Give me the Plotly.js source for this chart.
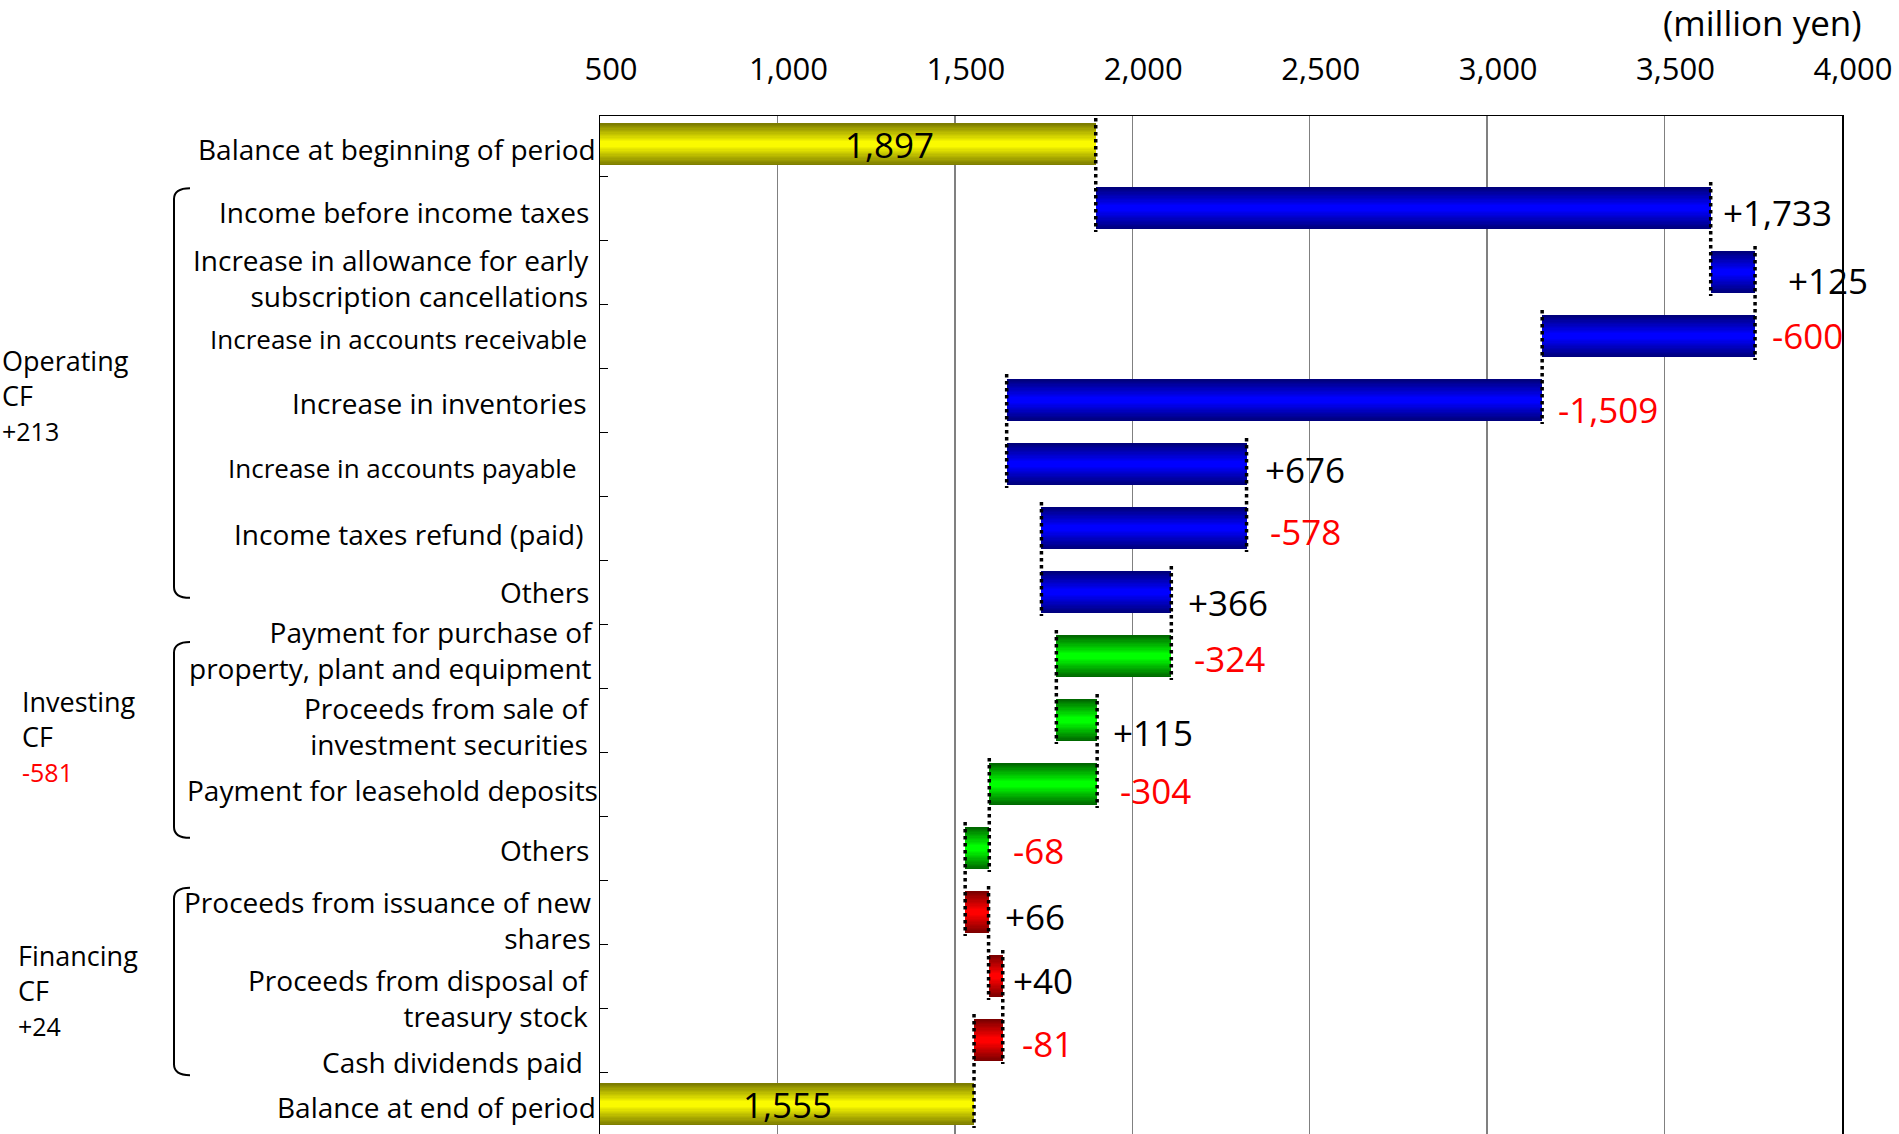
<!DOCTYPE html>
<html>
<head>
<meta charset="utf-8">
<script src="https://cdn.plot.ly/plotly-3.0.1.min.js"></script>
<style>html,body{margin:0;padding:0;background:#fff;}#chart{width:1899px;height:1134px;}</style>
</head>
<body>
<div id="chart"></div>
<script>
// ---------------- DATA ----------------
const categories = [
  "Balance at beginning of period",
  "Income before income taxes",
  "Increase in allowance for early<br>subscription cancellations",
  "Increase in accounts receivable",
  "Increase in inventories",
  "Increase in accounts payable",
  "Income taxes refund (paid)",
  "Others",
  "Payment for purchase of<br>property, plant and equipment",
  "Proceeds from sale of<br>investment securities",
  "Payment for leasehold deposits",
  "Others",
  "Proceeds from issuance of new<br>shares",
  "Proceeds from disposal of<br>treasury stock",
  "Cash dividends paid",
  "Balance at end of period"
];
const beginBalance = 1897;
const endBalance = 1555;
const changes = [1733, 125, -600, -1509, 676, -578, 366, -324, 115, -304, -68, 66, 40, -81];
const groupNames = ["Operating", "Investing", "Financing"];
const groupTotals = [213, -581, 24];
const groupFirstRow = [1, 8, 12];
const groupLastRow = [7, 11, 14];
const xTickValues = [500, 1000, 1500, 2000, 2500, 3000, 3500, 4000];
const unitLabel = "(million yen)";

// ---------------- STYLE ----------------
const FONT = "'Open Sans', Roboto, sans-serif";
const W = 1899, H = 1134;
const M = {l: 600, r: 57, t: 116, b: 0};
const PW = W - M.l - M.r, PH = H - M.t - M.b;
const ROW_PX = 64;
const BAR_H = 0.65;
const palette = {
  balance:   {dark: [122, 122, 0],  light: [250, 250, 0]},
  operating: {dark: [0, 0, 120],    light: [0, 0, 255]},
  investing: {dark: [0, 100, 0],    light: [0, 255, 0]},
  financing: {dark: [120, 0, 0],    light: [255, 0, 0]}
};
// category label nudges (px): gap to axis, downward shift, font size
const catStyle = [
  {gap: 4, dy: 5, size: 28}, {gap: 11, dy: 4, size: 28}, {gap: 11, dy: 6, size: 28},
  {gap: 13, dy: 3, size: 26}, {gap: 13, dy: 3, size: 28}, {gap: 23, dy: 4, size: 26},
  {gap: 17, dy: 6, size: 28}, {gap: 11, dy: 0, size: 28}, {gap: 7, dy: -6, size: 28},
  {gap: 11, dy: 6, size: 28}, {gap: 2, dy: 6, size: 28}, {gap: 11, dy: 2, size: 28},
  {gap: 9, dy: 8, size: 28}, {gap: 11, dy: 22, size: 28}, {gap: 17, dy: 22, size: 28},
  {gap: 4, dy: 3, size: 28}
];
// value label nudges (px): gap to bar end, downward shift
const valueStyle = [
  {gap: 12, dy: 4}, {gap: 33, dy: 8}, {gap: 17, dy: -1}, {gap: 16, dy: 9},
  {gap: 18, dy: 5}, {gap: 23, dy: 3}, {gap: 17, dy: 10}, {gap: 23, dy: 2},
  {gap: 16, dy: 12}, {gap: 23, dy: 6}, {gap: 24, dy: 2}, {gap: 16, dy: 4},
  {gap: 10, dy: 4}, {gap: 19, dy: 3}
];
const groupStyle = [
  {px: 2, dy: -5, span: [0.69, 7.09]},
  {px: 22, dy: -16, span: [7.78, 10.84]},
  {px: 18, dy: 14, span: [11.62, 14.55]}
];
const balanceLabelShift = [42, 0];

const px2paperX = px => (px - M.l) / PW;
const px2paperY = py => 1 - (py - M.t) / PH;
const fmt = v => v.toLocaleString("en-US");
const signed = v => (v > 0 ? "+" : "") + fmt(v);

// ---------------- BUILD ----------------
const n = categories.length;
const rowIdx = categories.map((_, i) => i);
const kindNames = ["operating", "investing", "financing"];
const kinds = rowIdx.map(i => {
  for (let g = 0; g < groupNames.length; g++) {
    if (i >= groupFirstRow[g] && i <= groupLastRow[g]) return kindNames[g];
  }
  return "balance";
});
const bases = [], lengths = [], ends = [];
let run = beginBalance;
bases.push(0); lengths.push(beginBalance); ends.push(beginBalance);
changes.forEach(c => { bases.push(run); lengths.push(c); run += c; ends.push(run); });
bases.push(0); lengths.push(endBalance); ends.push(endBalance);

const mix = (a, b, t) => {
  const c = a.map((v, i) => Math.round(v + (b[i] - v) * t));
  return `rgb(${c[0]},${c[1]},${c[2]})`;
};
const traces = [];
const NL = 16;
for (let k = 0; k < NL; k++) {
  const t = (k + 0.5) / NL;
  traces.push({
    type: "bar", orientation: "h",
    y: rowIdx, x: lengths, base: bases,
    width: BAR_H * (1 - k / NL),
    marker: {color: kinds.map(kd => mix(palette[kd].dark, palette[kd].light, Math.min(1, t * 1.1))), line: {width: 0}},
    hoverinfo: "skip", showlegend: false
  });
}
// connectors
const cx = [], cy = [];
for (let k = 0; k < n - 1; k++) {
  cx.push(ends[k], ends[k], null);
  cy.push(k - BAR_H / 2 - 0.08, k + 1 + BAR_H / 2 + 0.05, null);
}
traces.push({
  type: "scatter", mode: "lines", x: cx, y: cy,
  line: {color: "black", width: 3.5, dash: "dot"},
  hoverinfo: "skip", showlegend: false, cliponaxis: false
});

const annotations = [];
// category labels
categories.forEach((c, i) => {
  annotations.push({
    xref: "paper", yref: "y", x: 0, y: i, xanchor: "right", yanchor: "middle",
    xshift: -catStyle[i].gap, yshift: -catStyle[i].dy,
    text: c, align: "right", showarrow: false, borderpad: 0, borderwidth: 0,
    font: {family: FONT, size: catStyle[i].size, color: "black"}
  });
});
// value labels for changes
changes.forEach((c, j) => {
  const i = j + 1;
  const right = Math.max(bases[i], bases[i] + c);
  annotations.push({
    xref: "x", yref: "y", x: right, y: i, xanchor: "left", yanchor: "middle",
    xshift: valueStyle[j].gap, yshift: -valueStyle[j].dy,
    text: signed(c), showarrow: false, borderpad: 0, borderwidth: 0,
    font: {family: FONT, size: 35, color: c > 0 ? "black" : "#ff0000"}
  });
});
// balance labels inside bars
[[0, beginBalance], [n - 1, endBalance]].forEach(([i, v], j) => {
  annotations.push({
    xref: "x", yref: "y", x: (500 + v) / 2, y: i, xanchor: "center", yanchor: "middle",
    xshift: balanceLabelShift[j],
    text: fmt(v), showarrow: false, borderpad: 0, borderwidth: 0,
    font: {family: FONT, size: 35, color: "black"}
  });
});
// group labels and brackets
const shapes = [];
groupNames.forEach((g, k) => {
  const mid = (groupFirstRow[k] + groupLastRow[k]) / 2;
  const tot = groupTotals[k];
  annotations.push({
    xref: "paper", yref: "y", x: px2paperX(groupStyle[k].px), y: mid, xanchor: "left", yanchor: "middle",
    yshift: -groupStyle[k].dy,
    text: g + "<br>CF<br><span style='font-size:25px;color:" + (tot < 0 ? "#ff0000" : "black") + "'>" + signed(tot) + "</span>",
    align: "left", showarrow: false, borderpad: 0, borderwidth: 0,
    font: {family: FONT, size: 27, color: "black"}
  });
  const [y0, y1] = groupStyle[k].span;
  const xv = px2paperX(174), xt = px2paperX(190), r = 0.17;
  shapes.push({
    type: "path", xref: "paper", yref: "y",
    path: `M ${xt} ${y0} Q ${xv} ${y0} ${xv} ${y0 + r} L ${xv} ${y1 - r} Q ${xv} ${y1} ${xt} ${y1}`,
    line: {color: "black", width: 2}
  });
});
annotations.push({
  xref: "paper", yref: "paper", x: px2paperX(1762), y: px2paperY(23), xanchor: "center", yanchor: "middle",
  text: unitLabel, showarrow: false, borderpad: 0, borderwidth: 0,
  font: {family: FONT, size: 35, color: "black"}
});

const layout = {
  width: W, height: H, autosize: false,
  margin: M, paper_bgcolor: "white", plot_bgcolor: "white",
  font: {family: FONT, color: "black"},
  barmode: "overlay", bargap: 0,
  showlegend: false,
  xaxis: {
    side: "top", range: [500, 4000], tickvals: xTickValues, ticktext: xTickValues.map(fmt),
    showgrid: true, gridcolor: "#808080", gridwidth: 1.5,
    showline: true, linecolor: "black", linewidth: 1.5, mirror: true,
    ticks: "", zeroline: false,
    tickfont: {family: FONT, size: 31, color: "black"},
    ticklabelstandoff: 22, ticklabelshift: 11
  },
  yaxis: {
    range: [15 + (H - 144 - ROW_PX * 15) / ROW_PX, -(144 - M.t) / ROW_PX],
    tickvals: rowIdx.slice(0, n - 1).map(i => i + 0.5),
    ticks: "inside", ticklen: 8, tickcolor: "black", tickwidth: 1,
    showticklabels: false, showgrid: false, zeroline: false,
    showline: true, linecolor: "black", linewidth: 1.5, mirror: true
  },
  annotations: annotations,
  shapes: shapes
};
Plotly.newPlot("chart", traces, layout, {displayModeBar: false, staticPlot: true});
</script>
</body>
</html>
